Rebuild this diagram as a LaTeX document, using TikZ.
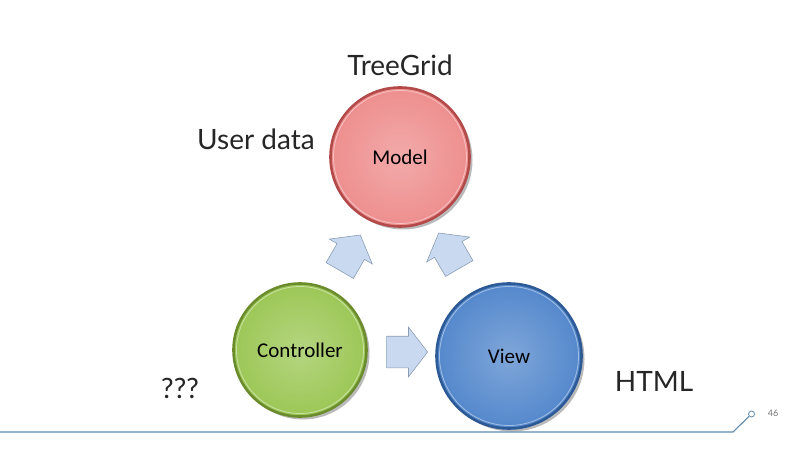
\documentclass[tikz,border=0pt]{standalone}
\usepackage{fontspec}
\setmainfont{Lato}
\newfontfamily\calfont{Carlito}
\usetikzlibrary{shapes.arrows,shadows}
\definecolor{modelc}{HTML}{EE8E8E}
\definecolor{modelrim}{HTML}{B24A4A}
\definecolor{ctrlc}{HTML}{9CC756}
\definecolor{ctrlrim}{HTML}{6B8C2C}
\definecolor{viewc}{HTML}{5488CC}
\definecolor{viewrim}{HTML}{2C5A96}
\definecolor{arrowc}{HTML}{C9DAF0}
\definecolor{arrowrim}{HTML}{8A9DB5}
\definecolor{linec}{HTML}{5E8BAE}
\definecolor{txt}{HTML}{262626}
\begin{document}
\begin{tikzpicture}[x=1pt,y=1pt,
  orb/.style n args={2}{circle, draw=#2, line width=2.6pt,
    inner color=#1!75!white, outer color=#1,
    font=\calfont\fontsize{21}{24}\selectfont, text=black,
    drop shadow={shadow xshift=3pt, shadow yshift=-3pt, opacity=0.45, fill=black!60}},
  rimhl/.style={draw=white, opacity=0.45, line width=0.8pt},
  blockarrow/.style={single arrow, draw=arrowrim, line width=0.6pt, fill=arrowc,
    minimum height=41pt, inner xsep=0pt, inner ysep=15.5pt,
    single arrow head extend=9pt, single arrow tip angle=105},
  biglabel/.style={font=\fontsize{28}{32}\selectfont, text=txt}
]
\useasboundingbox (0,0) rectangle (800,450);
% bottom decoration line
\coordinate (l0) at (0,18);
\coordinate (l1) at (733,18);
\coordinate (l2) at (749,34);
\node[circle, draw=linec, line width=0.8pt, fill=white, inner sep=0pt, minimum size=6pt] (dot) at (751.5,36) {};
\draw[linec, line width=1.1pt] (l0) -- (l1) -- (dot);
\node[font=\fontsize{9}{10}\selectfont, text=black!55] (page) at (773,37) {46};
% circles
\node[orb={modelc}{modelrim}, minimum size=139pt] (model) at (400,293) {Model};
\node[orb={ctrlc}{ctrlrim}, minimum size=133pt] (ctrl) at (300,100) {Controller};
\node[orb={viewc}{viewrim}, minimum size=145pt] (view) at (509,94) {View};
\draw[rimhl] (model.center) circle (66.5);
\draw[rimhl] (ctrl.center) circle (63.5);
\draw[rimhl] (view.center) circle (69.5);
% block arrows
\node[blockarrow] (a1) at (401,98) {};
\node[blockarrow, rotate=60] (a2) at (347,192) {};
\node[blockarrow, rotate=120] (a3) at (452,194) {};
% labels
\node[biglabel] (tg) at (400,385) {TreeGrid};
\node[biglabel] (ud) at (256,311) {User data};
\node[biglabel] (qq) at (180,62) {???};
\node[biglabel] (html) at (654,69) {HTML};
\end{tikzpicture}
\end{document}
